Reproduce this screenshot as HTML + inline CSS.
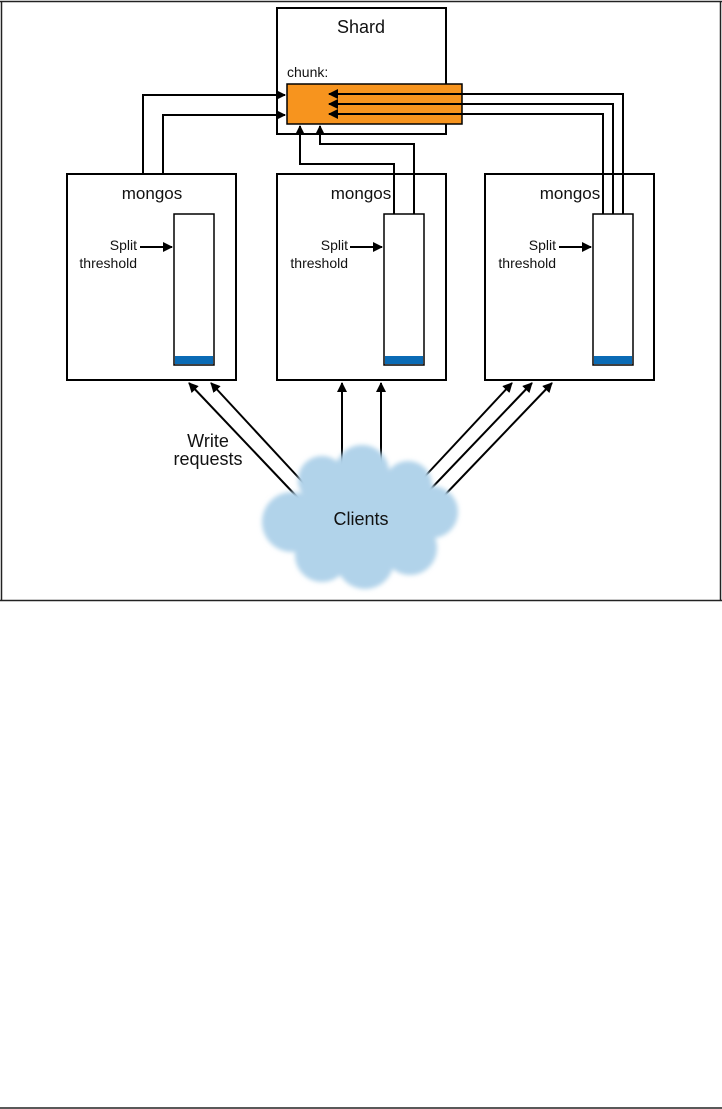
<!DOCTYPE html>
<html><head><meta charset="utf-8"><style>
html,body{margin:0;padding:0;background:#fff;}
svg{display:block;}
text{font-family:"Liberation Sans Narrow","Liberation Sans",sans-serif;fill:#111;}
</style></head><body>
<svg width="722" height="1109" viewBox="0 0 722 1109" xmlns="http://www.w3.org/2000/svg">
<defs>
<marker id="a" markerWidth="10" markerHeight="10" refX="9" refY="5" orient="auto" markerUnits="userSpaceOnUse"><path d="M0,0 L10,5 L0,10 z" fill="#000"/></marker>
<filter id="bl" x="-20%" y="-20%" width="140%" height="140%"><feGaussianBlur stdDeviation="2.5"/></filter>
</defs>
<!-- frame -->
<path d="M0,1.5 H722 M1.5,1 V600.5 M720.5,1 V600.5 M0,600.5 H722" stroke="#222" stroke-width="1.5" fill="none"/>
<line x1="0" y1="1108" x2="722" y2="1108" stroke="#222" stroke-width="1.5"/>

<!-- shard -->
<rect x="277" y="8" width="169" height="126" fill="#fff" stroke="#000" stroke-width="2"/>
<text x="361" y="33" font-size="18" text-anchor="middle">Shard</text>
<text x="287" y="77" font-size="14">chunk:</text>
<rect x="287" y="84" width="175" height="40" fill="#f7941e" stroke="#000" stroke-width="1.5"/>

<g fill="none" stroke="#000" stroke-width="2">
<!-- left mongos to chunk -->
<path d="M143,174 V95 H285" marker-end="url(#a)"/>
<path d="M163,174 V115 H285" marker-end="url(#a)"/>
<!-- center -->
<path d="M394,214 V164 H300 V126" marker-end="url(#a)"/>
<path d="M414,214 V144 H320 V126" marker-end="url(#a)"/>
<!-- right -->
<path d="M623,214 V94 H329" marker-end="url(#a)"/>
<path d="M613,214 V104 H329" marker-end="url(#a)"/>
<path d="M603,214 V114 H329" marker-end="url(#a)"/>
</g>

<!-- mongos boxes -->
<g stroke="#000" stroke-width="2" fill="none">
<rect x="67" y="174" width="169" height="206"/>
<rect x="277" y="174" width="169" height="206"/>
<rect x="485" y="174" width="169" height="206"/>
</g>
<g>
<rect x="174" y="214" width="40" height="151" fill="#fff" stroke="#000" stroke-width="1.5"/>
<rect x="175" y="356" width="38" height="8" fill="#0a6bb5"/>
<rect x="384" y="214" width="40" height="151" fill="#fff" stroke="#000" stroke-width="1.5"/>
<rect x="385" y="356" width="38" height="8" fill="#0a6bb5"/>
<rect x="593" y="214" width="40" height="151" fill="#fff" stroke="#000" stroke-width="1.5"/>
<rect x="594" y="356" width="38" height="8" fill="#0a6bb5"/>
</g>
<g font-size="17" text-anchor="middle">
<text x="152" y="199">mongos</text>
<text x="361" y="199">mongos</text>
<text x="570" y="199">mongos</text>
</g>
<g font-size="14" text-anchor="end">
<text x="137" y="250">Split</text><text x="137" y="268">threshold</text>
<text x="348" y="250">Split</text><text x="348" y="268">threshold</text>
<text x="556" y="250">Split</text><text x="556" y="268">threshold</text>
</g>
<g stroke="#000" stroke-width="2" fill="none">
<path d="M140,247 H172" marker-end="url(#a)"/>
<path d="M350,247 H382" marker-end="url(#a)"/>
<path d="M559,247 H591" marker-end="url(#a)"/>
<!-- client arrows -->
<path d="M300,500 L189,383" marker-end="url(#a)"/>
<path d="M310,490 L211,383" marker-end="url(#a)"/>
<path d="M342,470 V383" marker-end="url(#a)"/>
<path d="M381,470 V383" marker-end="url(#a)"/>
<path d="M415,487 L512,383" marker-end="url(#a)"/>
<path d="M425,495 L532,383" marker-end="url(#a)"/>
<path d="M440,500 L552,383" marker-end="url(#a)"/>
</g>
<text x="208" y="447" font-size="18" text-anchor="middle">Write</text>
<text x="208" y="465" font-size="18" text-anchor="middle">requests</text>

<!-- cloud -->
<g fill="#b1d3ea" filter="url(#bl)">
<circle cx="362" cy="472" r="27"/>
<circle cx="322" cy="480" r="24"/>
<circle cx="408" cy="485" r="24"/>
<circle cx="432" cy="512" r="26"/>
<circle cx="292" cy="522" r="30"/>
<circle cx="322" cy="555" r="27"/>
<circle cx="365" cy="560" r="29"/>
<circle cx="410" cy="548" r="27"/>
<circle cx="362" cy="515" r="52"/>
</g>
<text x="361" y="525" font-size="18" text-anchor="middle">Clients</text>
</svg>
</body></html>
